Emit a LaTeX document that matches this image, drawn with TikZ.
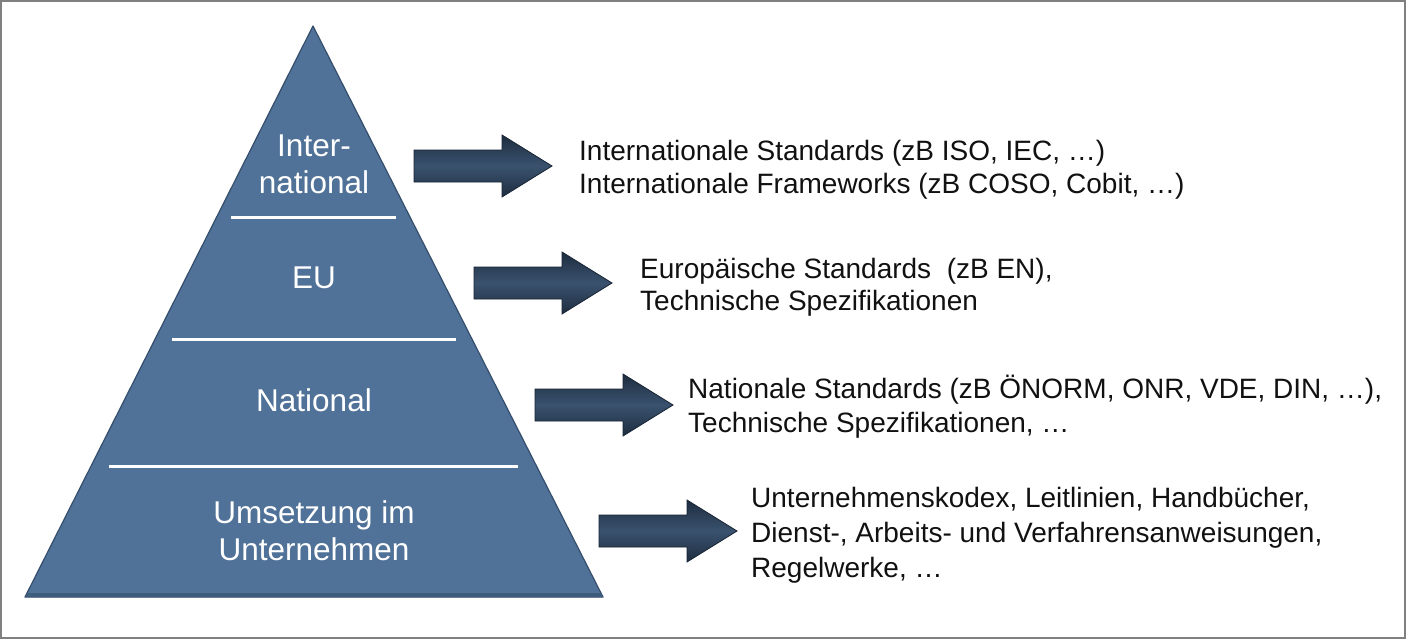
\documentclass[tikz,border=0pt]{standalone}
\usepackage{fontspec}
\setmainfont{Liberation Sans}
\definecolor{pyrfill}{RGB}{80,114,152}
\definecolor{pyredge}{RGB}{52,78,108}
\definecolor{pyrdark}{RGB}{62,92,126}
\definecolor{arrdark}{RGB}{30,45,64}
\definecolor{arrmid}{RGB}{58,82,110}
\definecolor{arredge}{RGB}{24,36,52}
\definecolor{framegray}{RGB}{128,128,128}
\definecolor{txt}{RGB}{17,17,17}
\tikzset{
  pyrlabel/.style={text=white, inner sep=0pt, align=center, font=\fontsize{31.5}{37}\selectfont},
  desc/.style={text=txt, inner sep=0pt, align=left, anchor=base west},
  sepline/.style={white, line width=3pt},
  pics/blockarrow/.style={code={
    \path[draw=arredge, line width=0.8pt, top color=arrdark, bottom color=arrdark, middle color=arrmid]
      (0,-16) -- (88,-16) -- (88,-31) -- (138,0) -- (88,31) -- (88,16) -- (0,16) -- cycle;
  }}
}
\begin{document}
\begin{tikzpicture}[x=1pt,y=-1pt]
\useasboundingbox (0,0) rectangle (1406,640);
\fill[white] (0,0) rectangle (1406,640);
\draw[framegray, line width=1.6pt] (1,1) rectangle (1405,638);

% pyramid
\coordinate (apex) at (313,26);
\coordinate (bl) at (25,597);
\coordinate (br) at (603,597);
\path[fill=pyrfill, draw=pyredge, line width=1.2pt, line join=round] (apex) -- (br) -- (bl) -- cycle;
\fill[pyrdark] (27,593) -- (601,593) -- (603,597) -- (25,597) -- cycle;

% separators
\draw[sepline] (231,217) -- (396,217);
\draw[sepline] (172,339) -- (456,339);
\draw[sepline] (109,466) -- (518,466);

% pyramid labels (base = baseline of last line)
\node[pyrlabel, anchor=base] (lint) at (314,193) {Inter-\\national};
\node[pyrlabel, anchor=base] (leu) at (314,288) {EU};
\node[pyrlabel, anchor=base] (lnat) at (314,411) {National};
\node[pyrlabel, anchor=base] (lunt) at (314,560) {Umsetzung im\\Unternehmen};

% arrows
\pic (a1) at (414,166) {blockarrow};
\pic (a2) at (474,283) {blockarrow};
\pic (a3) at (535,405) {blockarrow};
\pic (a4) at (599,531) {blockarrow};

% descriptions (base = baseline of last line)
\node[desc, font=\fontsize{28}{33}\selectfont] (d1) at (579,193)
  {Internationale Standards (zB ISO, IEC, …)\\Internationale Frameworks (zB COSO, Cobit, …)};
\node[desc, font=\fontsize{28}{32}\selectfont] (d2) at (640,310)
  {Europäische Standards~ (zB EN),\\Technische Spezifikationen};
\node[desc, font=\fontsize{28}{34}\selectfont] (d3) at (688,432)
  {Nationale Standards (zB ÖNORM, ONR, VDE, DIN, …),\\Technische Spezifikationen, …};
\node[desc, font=\fontsize{28}{35}\selectfont] (d4) at (751,577)
  {Unternehmenskodex, Leitlinien, Handbücher,\\Dienst-, Arbeits- und Verfahrensanweisungen,\\Regelwerke, …};
\end{tikzpicture}
\end{document}
